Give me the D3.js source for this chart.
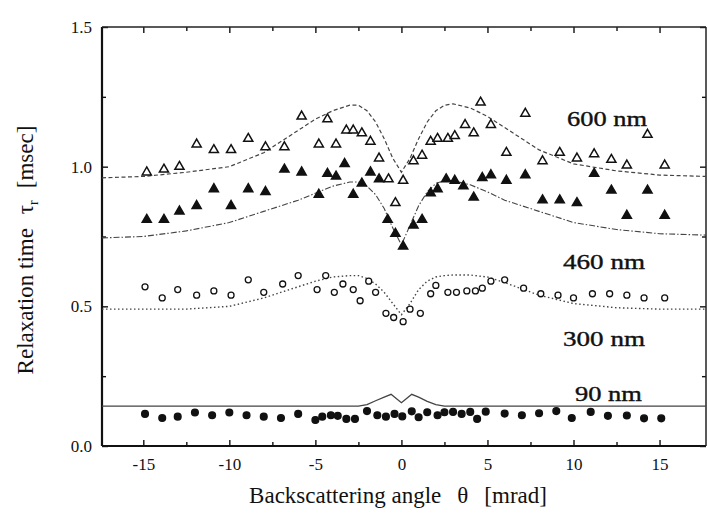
<!DOCTYPE html>
<html>
<head>
<meta charset="utf-8">
<script src="https://cdn.jsdelivr.net/npm/d3@7"></script>
<style>
  body { margin: 0; background: #fff; }
  svg text { font-family: "Liberation Serif", "Times New Roman", serif; fill: #111; }
</style>
</head>
<body>
<svg id="chart" width="708" height="513"></svg>
<script>
// measured points, angle theta [mrad] and relaxation time [msec]
const theta600 = [-14.8,-13.8,-12.9,-11.9,-10.9,-9.9,-8.9,-7.9,-6.8,-5.8,-4.8,-4.3,-3.8,-3.2,-2.8,-2.3,-1.8,-1.3,-0.75,-0.35,0.1,0.7,1.2,1.7,2.1,2.7,3.1,3.7,4.2,4.6,5.2,6.1,7.2,8.2,9.2,10.2,11.2,12.2,13.1,14.3,15.3];
const tau600   = [0.98,0.99,1.0,1.08,1.06,1.06,1.10,1.07,1.07,1.18,1.08,1.17,1.08,1.13,1.13,1.12,1.09,1.03,0.955,0.87,0.95,1.02,1.04,1.09,1.10,1.10,1.11,1.15,1.12,1.23,1.15,1.05,1.19,1.02,1.05,1.03,1.045,1.025,1.005,1.115,1.005];

const theta460 = [-14.8,-13.8,-12.9,-11.9,-10.9,-9.9,-8.9,-7.9,-6.8,-5.8,-4.8,-4.3,-3.8,-3.3,-2.8,-2.3,-1.8,-1.3,-0.8,-0.35,0.1,0.7,1.2,1.7,2.1,2.6,3.1,3.6,4.2,4.7,5.2,6.1,7.2,8.2,9.2,10.2,11.2,12.2,13.1,14.3,15.3];
const tau460   = [0.81,0.81,0.84,0.86,0.92,0.86,0.92,0.91,0.99,0.98,0.90,0.975,0.965,1.01,0.90,0.94,0.98,0.955,0.81,0.76,0.715,0.79,0.81,0.905,0.92,0.955,0.95,0.93,0.89,0.96,0.97,0.95,0.97,0.88,0.88,0.87,0.975,0.915,0.825,0.915,0.825];

const theta300 = [-14.9,-13.9,-13.0,-11.9,-10.9,-9.9,-8.9,-8.0,-6.9,-6.0,-4.9,-4.4,-3.9,-3.4,-2.8,-2.4,-1.9,-1.5,-0.9,-0.45,0.1,0.5,1.1,1.7,2.0,2.7,3.2,3.8,4.3,4.7,5.2,6.0,7.1,8.1,9.1,10.0,11.1,12.1,13.1,14.1,15.3];
const tau300   = [0.57,0.53,0.56,0.54,0.555,0.54,0.595,0.55,0.58,0.61,0.56,0.61,0.55,0.58,0.56,0.52,0.59,0.55,0.475,0.46,0.445,0.49,0.475,0.545,0.575,0.55,0.55,0.555,0.555,0.565,0.59,0.595,0.565,0.545,0.54,0.53,0.545,0.545,0.54,0.53,0.53];

const theta90 = [-14.9,-13.9,-13.0,-12.0,-11.0,-10.0,-9.0,-8.0,-7.0,-6.0,-5.0,-4.6,-4.1,-3.7,-3.2,-2.7,-2.0,-1.4,-0.9,-0.4,0.05,0.6,1.0,1.5,2.1,2.5,3.0,3.5,4.0,4.4,4.9,6.0,7.0,8.0,9.0,9.9,11.0,12.0,13.1,14.1,15.1];
const tau90   = [0.115,0.10,0.105,0.12,0.11,0.12,0.11,0.105,0.10,0.115,0.093,0.105,0.11,0.108,0.097,0.097,0.125,0.11,0.105,0.115,0.106,0.124,0.103,0.121,0.11,0.121,0.122,0.115,0.122,0.097,0.123,0.116,0.11,0.117,0.125,0.10,0.122,0.108,0.109,0.099,0.099];

// calculated curves
const curveTheta = [-17.4,-15,-12.5,-10,-8,-6,-5,-4,-3,-2.5,-2,-1.5,-1,-0.5,0,0.5,1,1.5,2,2.5,3,4,5,6,8,10,12.5,15,17.7];
const curve600 = [0.96,0.965,0.98,1.0,1.05,1.13,1.17,1.20,1.22,1.22,1.20,1.16,1.10,1.03,0.98,1.03,1.10,1.16,1.20,1.22,1.225,1.21,1.18,1.14,1.06,1.01,0.985,0.97,0.965];
const curve460 = [0.745,0.75,0.77,0.80,0.84,0.88,0.905,0.93,0.945,0.945,0.93,0.90,0.85,0.78,0.72,0.79,0.86,0.91,0.94,0.95,0.95,0.935,0.91,0.88,0.84,0.80,0.775,0.76,0.755];
const curve300 = [0.49,0.49,0.49,0.50,0.53,0.57,0.59,0.605,0.61,0.61,0.60,0.58,0.55,0.51,0.47,0.51,0.56,0.59,0.605,0.61,0.612,0.612,0.605,0.585,0.54,0.51,0.495,0.49,0.49];
const curve90Theta = [-17.4,-2.5,-2,-1.5,-1,-0.6,-0.3,0,0.3,0.6,1,1.5,2,2.5,17.7];
const curve90 = [0.143,0.143,0.148,0.162,0.175,0.185,0.17,0.155,0.17,0.185,0.175,0.16,0.148,0.143,0.143];

const xMajor = [-15,-10,-5,0,5,10,15];
const xMinor = [-12.5,-7.5,-2.5,2.5,7.5,12.5];
const yMajor = [0,0.5,1.0,1.5];
const yMinor = [0.25,0.75,1.25];
const seriesLabels = ["600 nm","460 nm","300 nm","90 nm"];

const plotLeft = 102, plotRight = 706, plotTop = 27, plotBottom = 446;
const svg = d3.select('#chart');

const x = d3.scaleLinear().domain([-17.4, 17.7]).range([plotLeft, plotRight]);
const y = d3.scaleLinear().domain([0, 1.5]).range([plotBottom, plotTop]);

// axes with inward ticks
function styleAxis(g) {
  g.select('.domain').remove();
  g.selectAll('line').attr('stroke', '#111').attr('stroke-width', 1.4);
  g.selectAll('text').style('font-size', '17px').attr('fill', '#111');
}
svg.append('g').attr('transform', `translate(0,${plotBottom})`)
  .call(d3.axisBottom(x).tickValues(xMajor).tickSizeInner(-6).tickSizeOuter(0).tickPadding(12)
    .tickFormat(d => d < 0 ? '-' + Math.abs(d) : d))
  .call(styleAxis);
svg.append('g').attr('transform', `translate(0,${plotBottom})`)
  .call(d3.axisBottom(x).tickValues(xMinor).tickSizeInner(-4).tickSizeOuter(0).tickFormat(''))
  .call(styleAxis);
svg.append('g').attr('transform', `translate(0,${plotTop})`)
  .call(d3.axisTop(x).tickValues(xMajor).tickSizeInner(-6).tickSizeOuter(0).tickFormat(''))
  .call(styleAxis);
svg.append('g').attr('transform', `translate(0,${plotTop})`)
  .call(d3.axisTop(x).tickValues(xMinor).tickSizeInner(-4).tickSizeOuter(0).tickFormat(''))
  .call(styleAxis);
svg.append('g').attr('transform', `translate(${plotLeft},0)`)
  .call(d3.axisLeft(y).tickValues(yMajor).tickSizeInner(-6).tickSizeOuter(0).tickPadding(10)
    .tickFormat(d3.format('.1f')))
  .call(styleAxis);
svg.append('g').attr('transform', `translate(${plotLeft},0)`)
  .call(d3.axisLeft(y).tickValues(yMinor).tickSizeInner(-4).tickSizeOuter(0).tickFormat(''))
  .call(styleAxis);
svg.append('g').attr('transform', `translate(${plotRight},0)`)
  .call(d3.axisRight(y).tickValues(yMajor).tickSizeInner(-6).tickSizeOuter(0).tickFormat(''))
  .call(styleAxis);
svg.append('g').attr('transform', `translate(${plotRight},0)`)
  .call(d3.axisRight(y).tickValues(yMinor).tickSizeInner(-4).tickSizeOuter(0).tickFormat(''))
  .call(styleAxis);

// frame
svg.append('line').attr('x1', plotLeft).attr('x2', plotLeft).attr('y1', plotTop).attr('y2', plotBottom)
  .attr('stroke', '#111').attr('stroke-width', 2.2);
svg.append('line').attr('x1', plotLeft).attr('x2', plotRight).attr('y1', plotBottom).attr('y2', plotBottom)
  .attr('stroke', '#111').attr('stroke-width', 2.2);
svg.append('line').attr('x1', plotLeft).attr('x2', plotRight).attr('y1', plotTop).attr('y2', plotTop)
  .attr('stroke', '#222').attr('stroke-width', 1.5);
svg.append('line').attr('x1', plotRight).attr('x2', plotRight).attr('y1', plotTop).attr('y2', plotBottom)
  .attr('stroke', '#222').attr('stroke-width', 1.5);

// curves
const line = d3.line().x(d => x(d[0])).y(d => y(d[1]));
const curves = [
  {t: curveTheta, v: curve600, dash: '4,2.5', w: 1.2},
  {t: curveTheta, v: curve460, dash: '6,2,1.5,2', w: 1.1},
  {t: curveTheta, v: curve300, dash: '1.5,2.5', w: 1.4},
  {t: curve90Theta, v: curve90, dash: null, w: 1.3}
];
curves.forEach(c => {
  svg.append('path')
    .datum(c.t.map((t, i) => [t, c.v[i]]))
    .attr('fill', 'none')
    .attr('stroke', '#444')
    .attr('stroke-width', c.w)
    .attr('stroke-dasharray', c.dash)
    .attr('d', line);
});

// markers
const tri = d3.symbol().type(d3.symbolTriangle).size(36);
function triangles(t, v, filled) {
  svg.append('g').selectAll('path')
    .data(t.map((d, i) => [d, v[i]]))
    .join('path')
    .attr('d', tri)
    .attr('transform', d => `translate(${x(d[0])},${y(d[1])})`)
    .attr('fill', filled ? '#111' : '#fff')
    .attr('stroke', '#111')
    .attr('stroke-width', 1.5);
}
function circles(t, v, filled) {
  svg.append('g').selectAll('circle')
    .data(t.map((d, i) => [d, v[i]]))
    .join('circle')
    .attr('cx', d => x(d[0]))
    .attr('cy', d => y(d[1]))
    .attr('r', filled ? 3.4 : 3)
    .attr('fill', filled ? '#111' : '#fff')
    .attr('stroke', '#111')
    .attr('stroke-width', 1.3);
}
triangles(theta600, tau600, false);
triangles(theta460, tau460, true);
circles(theta300, tau300, false);
circles(theta90, tau90, true);

// series labels
const labelPos = [[567, 126, 80], [563, 269, 82], [563, 346, 82], [575, 401, 67]];
seriesLabels.forEach((s, i) => {
  svg.append('text')
    .attr('x', labelPos[i][0]).attr('y', labelPos[i][1])
    .attr('textLength', labelPos[i][2]).attr('lengthAdjust', 'spacingAndGlyphs')
    .attr('stroke', '#111').attr('stroke-width', 0.4)
    .style('font-size', '22px')
    .text(s);
});

// axis titles
const xt = svg.append('text')
  .attr('x', 398).attr('y', 503)
  .attr('text-anchor', 'middle')
  .style('font-size', '23px');
xt.append('tspan').text('Backscattering angle');
xt.append('tspan').attr('dx', 16).text('θ');
xt.append('tspan').attr('dx', 16).text('[mrad]');

const yt = svg.append('text')
  .attr('transform', 'translate(33,250) rotate(-90)')
  .attr('text-anchor', 'middle')
  .style('font-size', '23px');
yt.append('tspan').text('Relaxation time');
yt.append('tspan').attr('dx', 14).text('τ');
yt.append('tspan').attr('dy', 5).style('font-size', '14px').text('r');
yt.append('tspan').attr('dx', 12).attr('dy', -5).text('[msec]');
</script>
</body>
</html>
